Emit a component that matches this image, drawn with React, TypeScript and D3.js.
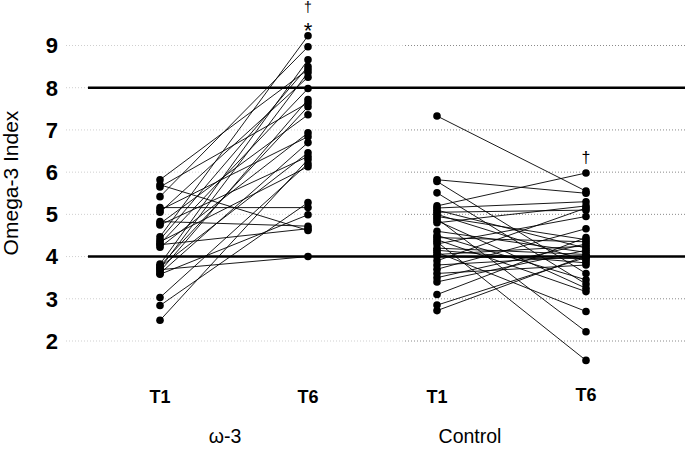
import React from 'react';
import * as d3 from 'd3';

// Omega-3 index per participant, paired by position (T1 -> T6)
const omegaT1 = [5.82, 5.70, 5.65, 5.42, 5.16, 5.10, 5.05, 4.83, 4.78, 4.75, 4.47, 4.40, 4.35, 4.30, 4.28, 4.22, 3.82, 3.78, 3.75, 3.72, 3.69, 3.65, 3.60, 3.58, 3.03, 2.84, 2.49];
const omegaT6 = [8.43, 4.62, 7.64, 8.97, 5.16, 6.84, 8.25, 4.72, 7.36, 6.37, 9.23, 8.50, 6.13, 7.98, 4.66, 6.93, 8.66, 7.55, 6.46, 8.36, 4.00, 7.72, 6.70, 4.99, 6.20, 5.28, 6.30];

const controlT1 = [7.33, 5.82, 5.78, 5.51, 5.20, 5.15, 5.10, 5.05, 5.00, 4.95, 4.90, 4.85, 4.80, 4.60, 4.50, 4.45, 4.40, 4.35, 4.30, 4.20, 4.15, 4.10, 4.05, 4.00, 3.90, 3.80, 3.70, 3.60, 3.50, 3.40, 3.10, 2.85, 2.72];
const controlT6 = [5.55, 5.50, 3.60, 3.35, 5.98, 5.30, 4.20, 5.10, 3.90, 4.40, 2.22, 3.25, 5.20, 4.10, 3.45, 4.35, 3.17, 1.54, 4.95, 4.05, 3.85, 2.70, 4.25, 3.95, 5.15, 4.00, 4.66, 3.80, 4.30, 4.15, 4.45, 3.98, 4.02];

const columns = ['w-T1', 'w-T6', 'c-T1', 'c-T6'];
const columnLabels = ['T1', 'T6', 'T1', 'T6'];
const groupLabels = ['ω-3', 'Control'];
const yTicks = [2, 3, 4, 5, 6, 7, 8, 9];
const refLines = [4, 8];

const W = 685;
const H = 452;

export default function App() {
  const y = d3.scaleLinear().domain([2, 9]).range([341, 45.5]);
  const x = d3.scaleOrdinal<string, number>().domain(columns).range([160, 308, 437, 586]);

  const groups = [
    { a: 'w-T1', b: 'w-T6', t1: omegaT1, t6: omegaT6 },
    { a: 'c-T1', b: 'c-T6', t1: controlT1, t6: controlT6 },
  ];

  return (
    <svg width={W} height={H} style={{ position: 'absolute', left: 0, top: 0, background: '#fff' }}
      fontFamily="'Liberation Sans', Arial, sans-serif" fill="#000">
      {/* gridlines */}
      {yTicks.map(t => (
        <g key={t}>
          <line x1={66} x2={404} y1={y(t)} y2={y(t)} stroke="#cfcfcf" strokeWidth={1} strokeDasharray="1,2" />
          <line x1={405} x2={W} y1={y(t)} y2={y(t)} stroke="#8a8a8a" strokeWidth={1} strokeDasharray="1,2" />
        </g>
      ))}
      {refLines.map(r => (
        <line key={r} x1={88} x2={W} y1={y(r)} y2={y(r)} stroke="#000" strokeWidth={2.5} />
      ))}

      {/* y axis */}
      {yTicks.map(t => (
        <text key={t} x={58} y={y(t)} dy="0.36em" textAnchor="end" fontSize={22} fontWeight="bold">{t}</text>
      ))}
      <text transform="translate(18,183) rotate(-90)" textAnchor="middle" fontSize={21}>Omega-3 Index</text>

      {/* paired lines and points */}
      {groups.map((g, gi) => (
        <g key={gi}>
          {g.t1.map((v, i) => (
            <line key={'l' + i} x1={x(g.a)} y1={y(v)} x2={x(g.b)} y2={y(g.t6[i])} stroke="#000" strokeWidth={0.9} />
          ))}
          {g.t1.map((v, i) => (
            <circle key={'a' + i} cx={x(g.a)} cy={y(v)} r={3.8} fill="#000" />
          ))}
          {g.t6.map((v, i) => (
            <circle key={'b' + i} cx={x(g.b)} cy={y(v)} r={3.8} fill="#000" />
          ))}
        </g>
      ))}

      {/* significance marks */}
      <text x={x('w-T6')} y={12} textAnchor="middle" fontSize={14} fill="#000">†</text>
      <text x={x('w-T6')} y={38} textAnchor="middle" fontSize={22} fill="#000">*</text>
      <text x={x('c-T6')} y={y(d3.max(controlT6) as number) - 10} textAnchor="middle" fontSize={16} fill="#000">†</text>

      {/* x labels */}
      {columns.map((c, i) => (
        <text key={c} x={x(c)} y={i === 3 ? 401 : 403} textAnchor="middle" fontSize={18} fontWeight="bold">{columnLabels[i]}</text>
      ))}
      <text x={225} y={443} textAnchor="middle" fontSize={19.5}>{groupLabels[0]}</text>
      <text x={470} y={443} textAnchor="middle" fontSize={19.5}>{groupLabels[1]}</text>
    </svg>
  );
}
